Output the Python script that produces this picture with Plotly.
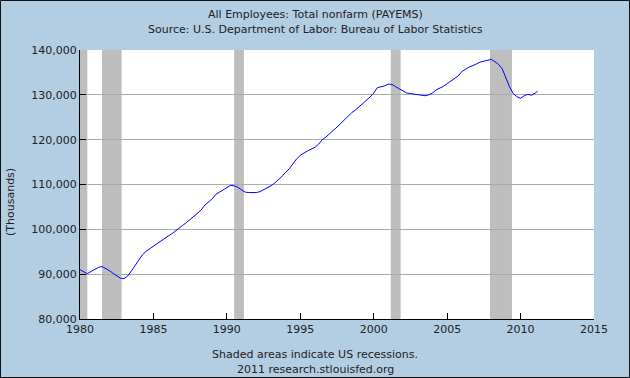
import plotly.graph_objects as go

# Quarterly readings (Jan, Apr, Jul, Oct) of All Employees: Total nonfarm, thousands
years = list(range(1980, 2012))
quarter_months = ["01", "04", "07", "10"]
payems_by_year = {
    1980: [91000, 90600, 90100, 90600],
    1981: [91100, 91500, 91700, 91300],
    1982: [90800, 90200, 89600, 89100],
    1983: [89000, 89600, 90700, 92000],
    1984: [93300, 94300, 95100, 95700],
    1985: [96300, 96900, 97500, 98000],
    1986: [98500, 99000, 99700, 100300],
    1987: [100900, 101500, 102200, 102800],
    1988: [103500, 104300, 105400, 106100],
    1989: [106800, 107800, 108300, 108700],
    1990: [109300, 109800, 109700, 109400],
    1991: [108800, 108300, 108200, 108200],
    1992: [108200, 108400, 108800, 109200],
    1993: [109700, 110300, 111000, 111800],
    1994: [112700, 113500, 114600, 115700],
    1995: [116500, 117100, 117500, 117900],
    1996: [118300, 119000, 120000, 120600],
    1997: [121300, 122100, 122800, 123600],
    1998: [124400, 125400, 126000, 126600],
    1999: [127300, 128000, 128700, 129500],
    2000: [130400, 131600, 131800, 132000],
    2001: [132400, 132300, 131800, 131300],
    2002: [130700, 130400, 130300, 130200],
    2003: [130000, 129900, 129800, 130000],
    2004: [130400, 131100, 131500, 131900],
    2005: [132500, 133000, 133700, 134200],
    2006: [135200, 135800, 136200, 136500],
    2007: [136900, 137300, 137500, 137700],
    2008: [137900, 137400, 136800, 135800],
    2009: [133800, 131800, 130300, 129600],
    2010: [129200, 129800, 130100, 129900],
    2011: [130400],
}
extra_dates = ["2011-03-01"]
extra_values = [130800]

rec_start = ["1980-01-01", "1981-07-01", "1990-07-01", "2001-03-01", "2007-12-01"]
rec_end = ["1980-07-01", "1982-11-01", "1991-03-01", "2001-11-01", "2009-06-01"]

y_ticks = [80000, 90000, 100000, 110000, 120000, 130000, 140000]
x_tick_years = [1980, 1985, 1990, 1995, 2000, 2005, 2010, 2015]

dates, values = [], []
for yr in years:
    for m, v in zip(quarter_months, payems_by_year[yr]):
        dates.append(f"{yr}-{m}-01")
        values.append(v)
dates += extra_dates
values += extra_values

W, H = 630, 378
ML, MR, MT, MB = 80, 36, 50, 59
pw, ph = W - ML - MR, H - MT - MB

fig = go.Figure()
fig.add_trace(go.Scatter(x=dates, y=values, mode="lines",
                         line=dict(color="#0000FF", width=1), hoverinfo="skip"))

shapes = []
for s, e in zip(rec_start, rec_end):
    shapes.append(dict(type="rect", xref="x", yref="paper", x0=s, x1=e, y0=0, y1=1,
                       fillcolor="#BEBEBE", line=dict(width=0), layer="below"))
# outer border
shapes.append(dict(type="rect", xref="paper", yref="paper",
                   x0=-ML / pw + 0.5 / pw, x1=1 + (MR - 0.5) / pw,
                   y0=-MB / ph + 0.5 / ph, y1=1 + (MT - 0.5) / ph,
                   line=dict(color="#111111", width=1), fillcolor="rgba(0,0,0,0)", layer="above"))

font = dict(family="DejaVu Sans, Verdana, sans-serif", size=11, color="#222222")

annotations = [
    dict(text="All Employees: Total nonfarm (PAYEMS)", xref="paper", yref="paper",
         x=(W / 2 - ML) / pw, y=1 + (MT - 14) / ph, showarrow=False, font=font,
         xanchor="center", yanchor="middle"),
    dict(text="Source: U.S. Department of Labor: Bureau of Labor Statistics", xref="paper", yref="paper",
         x=(W / 2 - ML) / pw, y=1 + (MT - 29) / ph, showarrow=False, font=font,
         xanchor="center", yanchor="middle"),
    dict(text="Shaded areas indicate US recessions.", xref="paper", yref="paper",
         x=(W / 2 - ML) / pw, y=-(354 - (H - MB)) / ph, showarrow=False, font=font,
         xanchor="center", yanchor="middle"),
    dict(text="2011 research.stlouisfed.org", xref="paper", yref="paper",
         x=(W / 2 - ML) / pw, y=-(369 - (H - MB)) / ph, showarrow=False, font=font,
         xanchor="center", yanchor="middle"),
    dict(text="(Thousands)", xref="paper", yref="paper",
         x=(10 - ML) / pw, y=1 - (202 - MT) / ph, showarrow=False, font=font, textangle=-90,
         xanchor="center", yanchor="middle"),
]

fig.update_layout(
    width=W, height=H,
    margin=dict(l=ML, r=MR, t=MT, b=MB, autoexpand=False),
    paper_bgcolor="#B3CDE3", plot_bgcolor="#FFFFFF",
    showlegend=False, font=font,
    shapes=shapes, annotations=annotations,
    xaxis=dict(type="date", range=["1980-01-01", "2015-01-01"],
               tickvals=[f"{y}-01-01" for y in x_tick_years],
               ticktext=[str(y) for y in x_tick_years],
               ticks="inside", ticklen=6, tickcolor="#000000", tickwidth=1,
               showline=True, linecolor="#000000", linewidth=1,
               showgrid=False, zeroline=False, tickfont=font),
    yaxis=dict(range=[80000, 140000], tickvals=y_ticks,
               ticktext=[f"{v:,}" for v in y_ticks],
               ticks="inside", ticklen=6, tickcolor="#000000", tickwidth=1,
               showline=True, linecolor="#000000", linewidth=1,
               showgrid=True, gridcolor="#AAAAAA", gridwidth=1,
               zeroline=False, tickfont=font),
)

fig.write_html("out.html", config={"displayModeBar": False},
               post_script="document.body.style.margin='0px';document.body.style.overflow='hidden';")
